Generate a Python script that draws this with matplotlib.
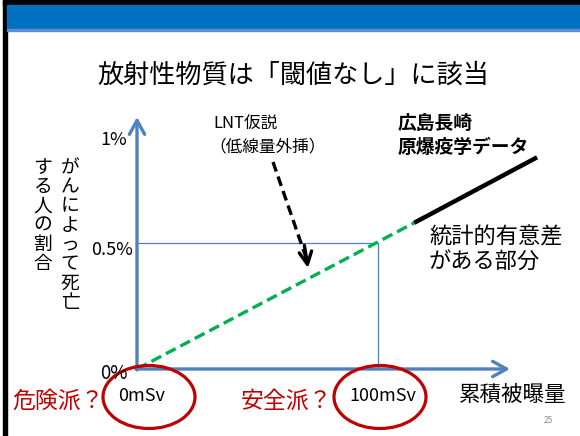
import numpy as np
import matplotlib.pyplot as plt
from matplotlib.patches import Rectangle, Ellipse

plt.rcParams['font.family'] = ['Noto Sans CJK JP', 'DejaVu Sans']

# data (dose in mSv, risk in %)
lnt_dose = [0, 115]
lnt_risk = [0, 0.58]
data_dose = [115, 166]
data_risk = [0.58, 0.84]
ref_dose = 100
ref_risk = 0.5
x_tick_vals = [0, 100]
x_tick_labels = ["0mSv", "100mSv"]
y_tick_labels = ["0%", "0.5%", "1%"]

W, H = 580, 436
AXIS_BLUE = "#4F81BD"
RED = "#C00000"

fig = plt.figure(figsize=(W / 100, H / 100), dpi=100)

# axes spans the whole slide; origin of the chart at pixel (137, 369)
ox, oy = 137, 369
px_per_msv = 2.41
px_per_pct = 252
ax = fig.add_axes([0, 0, 1, 1])
ax.set_xlim(-ox / px_per_msv, (W - ox) / px_per_msv)
ax.set_ylim((oy - H) / px_per_pct, oy / px_per_pct)
ax.axis('off')


def fx(x):
    return x / W


def fy(y):
    return 1 - y / H


# slide decorations
fig.patches.append(Rectangle((fx(3), fy(5)), 1, 5 / H, transform=fig.transFigure, color="black"))
fig.patches.append(Rectangle((fx(3), 0), 4 / W, 1, transform=fig.transFigure, color="black"))
fig.patches.append(Rectangle((fx(7), fy(29)), 1, 24 / H, transform=fig.transFigure, color="#0070C0"))
fig.patches.append(Rectangle((fx(7), fy(31)), 1, 2 / H, transform=fig.transFigure, color="#5B8FD0"))

fig.text(fx(293), fy(75), "放射性物質は「閾値なし」に該当", fontsize=18.8, ha='center', va='center')

# axis arrows
x_end = (510 - ox) / px_per_msv
y_end = (oy - 117) / px_per_pct
arrow = dict(arrowstyle='->,head_length=1.0,head_width=0.55', lw=2.4, color=AXIS_BLUE,
             shrinkA=0, shrinkB=0)
ax.annotate('', xy=(x_end, 0), xytext=(-0.5, 0), arrowprops=arrow)
ax.annotate('', xy=(0, y_end), xytext=(0, -0.004), arrowprops=arrow)

# reference lines at 100mSv / 0.5%
ax.plot([0, ref_dose, ref_dose], [ref_risk, ref_risk, 0], color=AXIS_BLUE, lw=0.9)

# LNT extrapolation and observed data
ax.plot(lnt_dose, lnt_risk, color="#00B050", lw=2.4, dashes=(3.3, 1.6))
ax.plot(data_dose, data_risk, color="black", lw=3.2, solid_capstyle='butt')

# tick labels
fig.text(fx(128), fy(373), y_tick_labels[0], fontsize=13.5, ha='right', va='center')
fig.text(fx(133), fy(250), y_tick_labels[1], fontsize=13, ha='right', va='center')
fig.text(fx(127), fy(140), y_tick_labels[2], fontsize=13, ha='right', va='center')
for v, lab in zip(x_tick_vals, x_tick_labels):
    ax.text(v + 2, (oy - 396) / px_per_pct, lab, fontsize=13, ha='center', va='center')

# vertical y label (one character per line)
col1 = "がんによって死亡"
col2 = "する人の割合"
fig.text(fx(70), fy(157), "\n".join(col1), fontsize=13.5, ha='center', va='top',
         linespacing=0.89)
fig.text(fx(43), fy(157), "\n".join(col2), fontsize=13.5, ha='center', va='top',
         linespacing=0.89)

# LNT annotation
fig.text(fx(213), fy(123), "LNT仮説", fontsize=12, ha='left', va='center')
fig.text(fx(209), fy(147), "（低線量外挿）", fontsize=12, ha='left', va='center')
s = ((273 - ox) / px_per_msv, (oy - 162) / px_per_pct)
t = ((308 - ox) / px_per_msv, (oy - 268) / px_per_pct)
ax.plot([s[0], t[0] - 0.4], [s[1], t[1] + 0.03], color="black", lw=2.4, dashes=(3, 1.6))
ax.annotate('', xy=t, xytext=(t[0] - 1.5, t[1] + 0.09),
            arrowprops=dict(arrowstyle='->,head_length=0.9,head_width=0.45', lw=2.4,
                            color="black", shrinkA=0, shrinkB=0))

fig.text(fx(398), fy(123), "広島長崎", fontsize=13.5, fontweight='bold', ha='left', va='center')
fig.text(fx(398), fy(147), "原爆疫学データ", fontsize=13.5, fontweight='bold', ha='left', va='center')
fig.text(fx(429), fy(237), "統計的有意差", fontsize=16, ha='left', va='center')
fig.text(fx(429), fy(262), "がある部分", fontsize=16, ha='left', va='center')

# bottom labels
fig.text(fx(12), fy(401), "危険派？", fontsize=16.5, color=RED, ha='left', va='center')
fig.text(fx(241), fy(401), "安全派？", fontsize=16.5, color=RED, ha='left', va='center')
fig.text(fx(459), fy(395), "累積被曝量", fontsize=15.5, ha='left', va='center')
fig.text(fx(548), fy(420), "25", fontsize=6, color="#8C8C8C", ha='center', va='center')

for cx in [149, 380]:
    fig.patches.append(Ellipse((fx(cx), fy(397)), 92 / W, 63 / H, transform=fig.transFigure,
                               fill=False, edgecolor=RED, lw=2.3))

fig.savefig("out.png", dpi=100)
